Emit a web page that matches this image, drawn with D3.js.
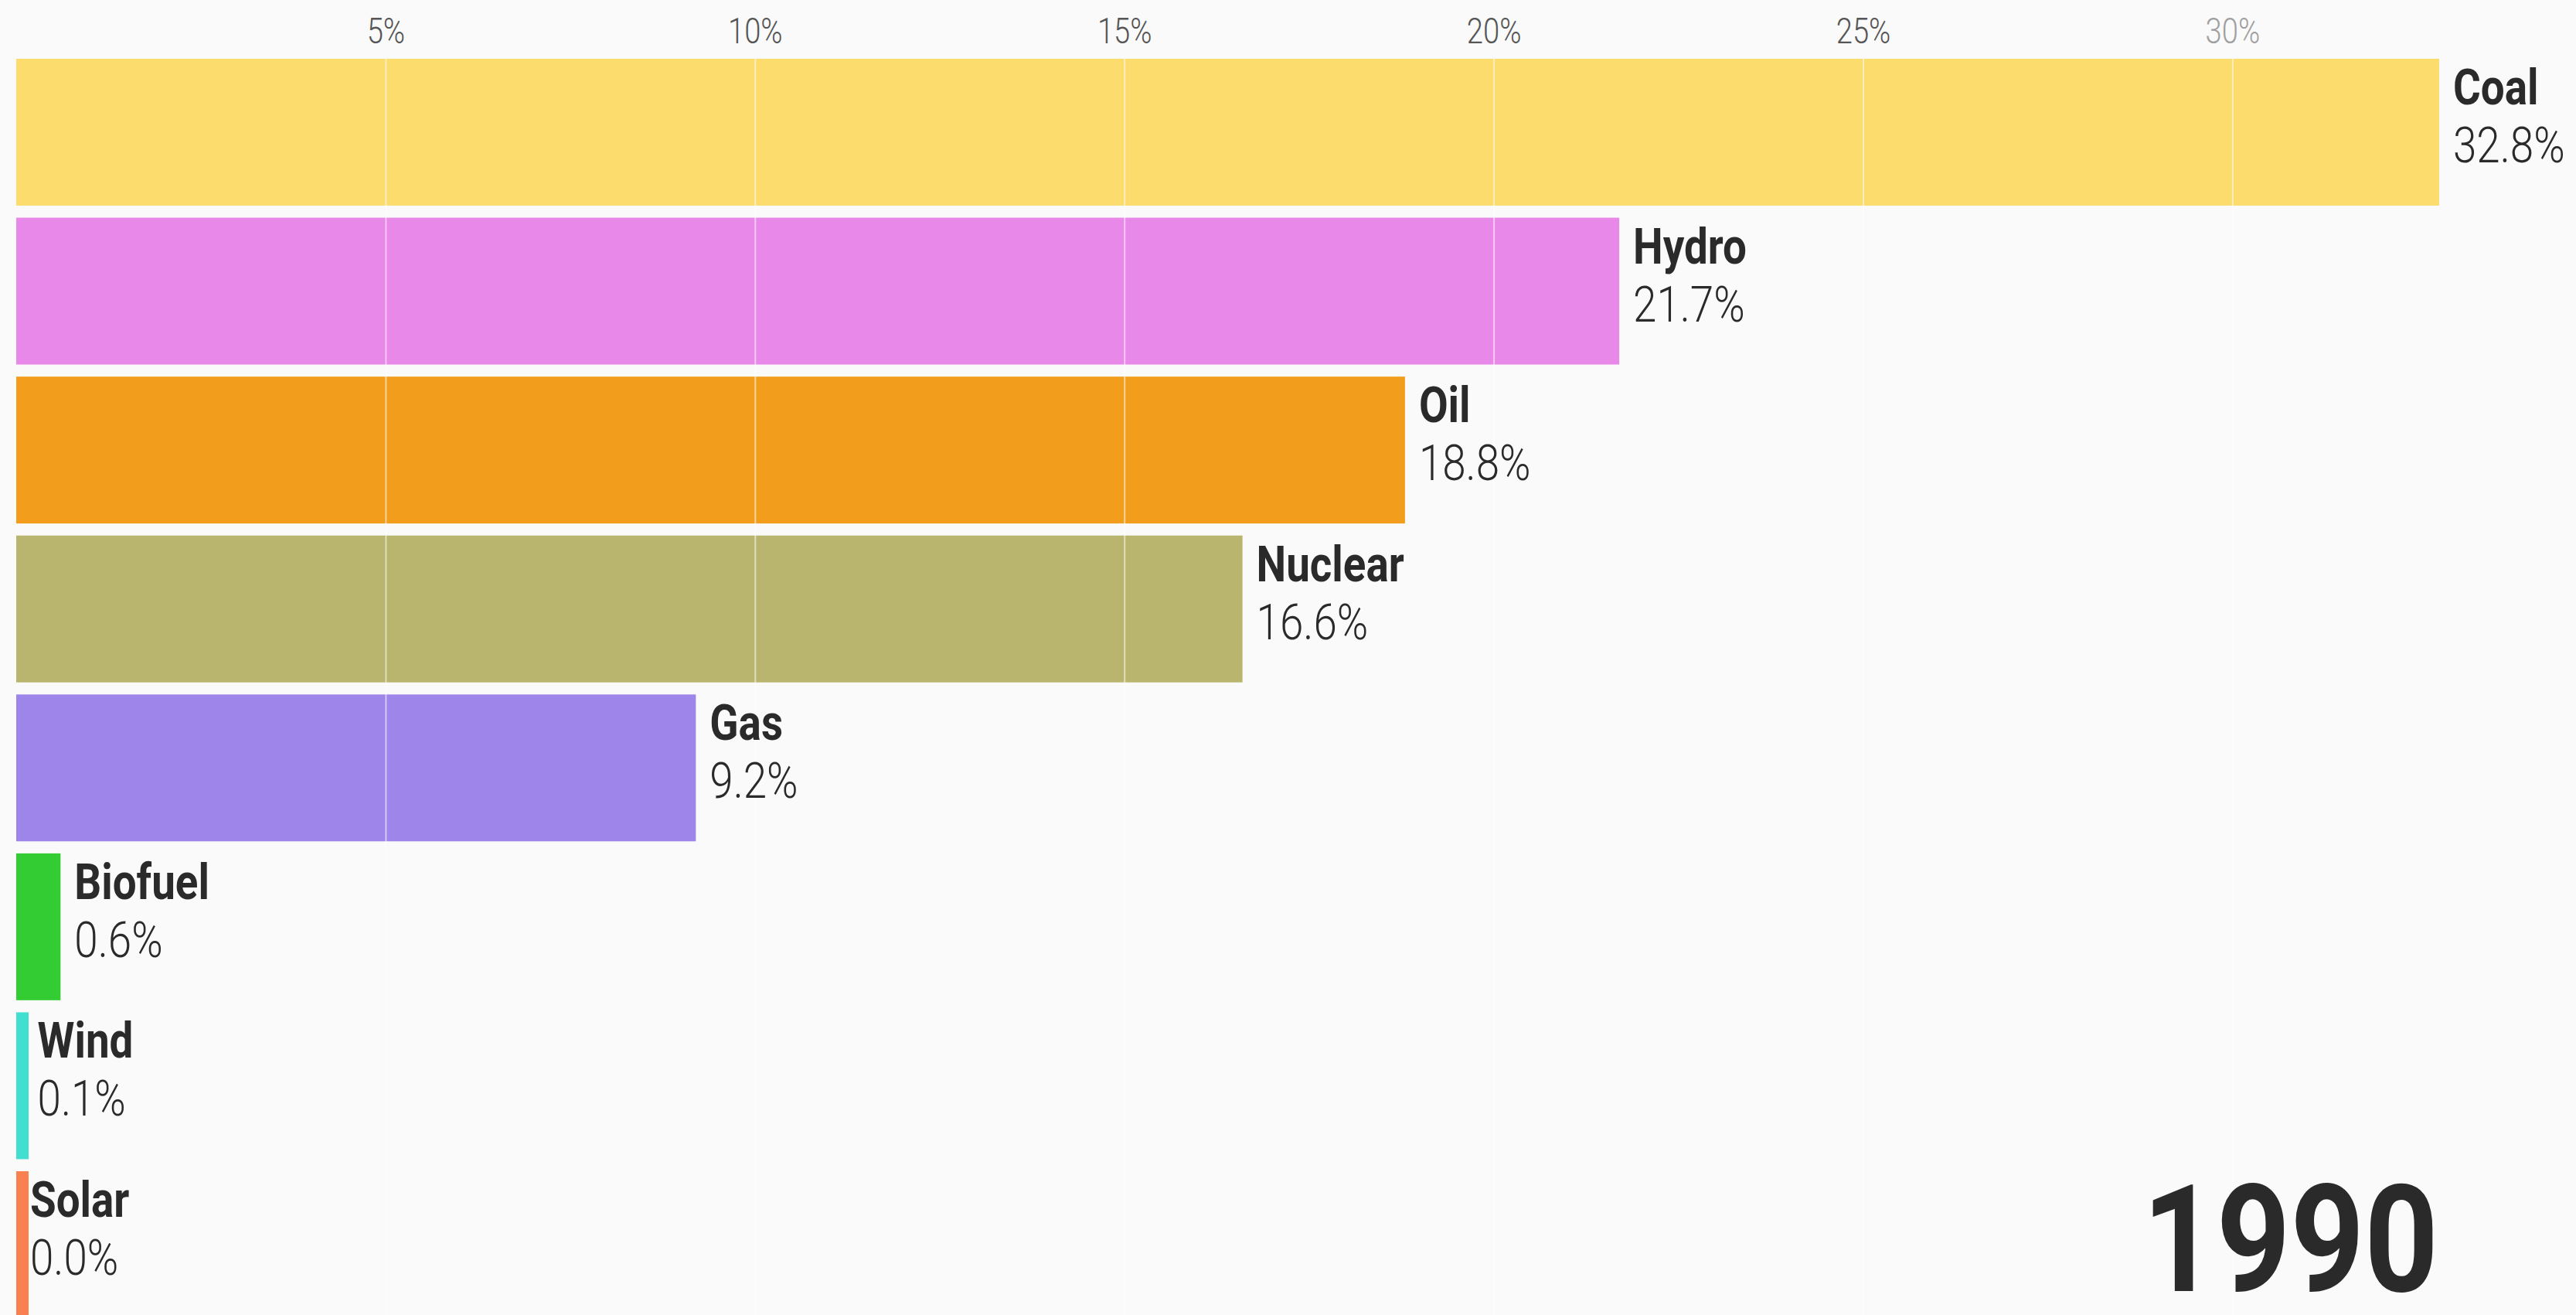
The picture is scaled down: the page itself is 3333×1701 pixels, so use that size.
<!DOCTYPE html>
<html>
<head>
<meta charset="utf-8">
<script src="https://cdn.jsdelivr.net/npm/d3@7"></script>
<style>
  html, body { margin: 0; padding: 0; background: #fafafa; }
  svg { display: block; }
</style>
</head>
<body>
<script>
// ---- data ----
const categories = ["Coal", "Hydro", "Oil", "Nuclear", "Gas", "Biofuel", "Wind", "Solar"];
const values = [32.8, 21.7, 18.8, 16.6, 9.2, 0.6, 0.1, 0.0];
const colors = ["#fbdc6d", "#e888e8", "#f39d1c", "#b9b56e", "#9e85ea", "#33cc33", "#40dfcf", "#f98050"];
const tickValues = [5, 10, 15, 20, 25, 30];
const tickLabels = ["5%", "10%", "15%", "20%", "25%", "30%"];
const yearLabel = "1990";

// ---- layout ----
(function () {
const W = 3333, H = 1701;
const mLeft = 21, mRight = 3156, mTop = 76;
const condense = 0.855;

const svg = d3.select("body").append("svg")
  .attr("width", W).attr("height", H)
  .style("background", "#fafafa");

const data = categories.map((c, i) => ({ name: c, value: values[i], color: colors[i] }));

const x = d3.scaleLinear().domain([0, d3.max(values)]).range([mLeft, mRight]);
const y = d3.scaleBand().domain(categories).range([mTop, mTop + 1629]).paddingInner(0.076).paddingOuter(0);

// bars
svg.append("g").selectAll("rect").data(data).join("rect")
  .attr("x", x(0))
  .attr("y", d => y(d.name))
  .attr("width", d => Math.max(x(d.value) - x(0), 16))
  .attr("height", y.bandwidth())
  .attr("fill", d => d.color);

// axis + gridlines on top of bars
const gridH = y.range()[1] - mTop;
const axis = d3.axisTop(x)
  .tickValues(tickValues)
  .tickFormat((d, i) => tickLabels[i])
  .tickSizeInner(-gridH)
  .tickSizeOuter(0)
  .tickPadding(20);

const ag = svg.append("g").attr("transform", `translate(0,${mTop})`).call(axis);
ag.select(".domain").remove();
ag.selectAll(".tick line")
  .attr("stroke", "#ffffff")
  .attr("stroke-opacity", 0.55)
  .attr("stroke-width", 2);
ag.selectAll(".tick text")
  .attr("font-family", "Roboto, 'Noto Sans', sans-serif")
  .attr("font-size", 46)
  .attr("font-weight", 300)
  .attr("fill", "#555555")
  .attr("transform", `scale(0.83,1)`)
  .attr("x", 0)
  .attr("opacity", (d, i) => i === tickValues.length - 1 ? 0.55 : 1);

// labels
const lab = svg.append("g").selectAll("g").data(data).join("g")
  .attr("transform", d => `translate(${x(d.value) + 18},${y(d.name)}) scale(${condense},1)`);

lab.append("text")
  .attr("y", 59)
  .attr("font-family", "Roboto, 'Noto Sans', sans-serif")
  .attr("font-weight", 700)
  .attr("font-size", 64)
  .attr("fill", "#2a2a2a")
  .text(d => d.name);

lab.append("text")
  .attr("y", 134)
  .attr("font-family", "Roboto, 'Noto Sans', sans-serif")
  .attr("font-weight", 300)
  .attr("font-size", 64)
  .attr("fill", "#2a2a2a")
  .text(d => d3.format(".1f")(d.value) + "%");

// year
svg.append("g")
  .attr("transform", `translate(${mRight - 1},1670) scale(0.865,1)`)
  .append("text")
  .attr("text-anchor", "end")
  .attr("font-family", "Roboto, 'Noto Sans', sans-serif")
  .attr("font-weight", 700)
  .attr("font-size", 193)
  .attr("fill", "#2a2a2a")
  .text(yearLabel);
})();
</script>
</body>
</html>
